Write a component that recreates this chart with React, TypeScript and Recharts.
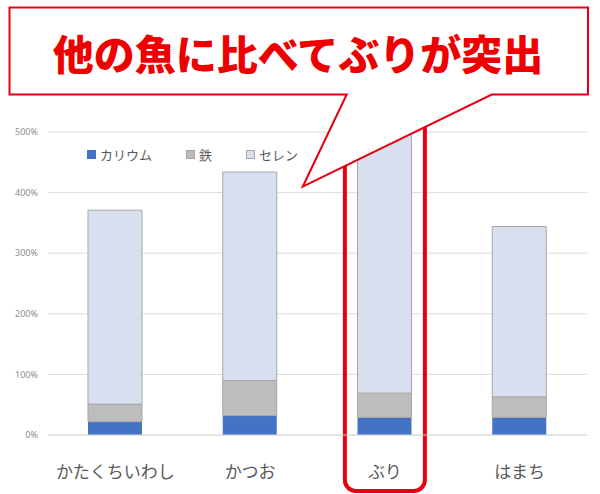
import React from 'react';
import { BarChart, Bar, XAxis, YAxis, CartesianGrid, ReferenceArea } from 'recharts';

const categories = ['かたくちいわし', 'かつお', 'ぶり', 'はまち'];
const potassium = [22, 32, 29, 29];
const iron = [29, 58, 40, 34];
const selenium = [320, 344, 431, 281];
const yTicks = [0, 100, 200, 300, 400, 500];
const seriesNames = ['カリウム', '鉄', 'セレン'];
const seriesColors = ['#4472c4', '#bdbdbd', '#d8e0ef'];
const highlightCategory = 'ぶり';
const calloutText = '他の魚に比べてぶりが突出';

const data = categories.map((name, i) => ({
  name,
  k: potassium[i],
  fe: iron[i],
  se: selenium[i],
}));

const JP = '"Noto Sans CJK JP", "Noto Sans", sans-serif';

const HighlightShape = (props: any) => {
  const { x, y, width, height } = props;
  const cx = x + width / 2;
  return (
    <rect
      x={cx - 40}
      y={y - 25}
      width={80}
      height={height + 25 + 56}
      rx={11}
      ry={11}
      fill="none"
      stroke="#e60012"
      strokeWidth={4}
    />
  );
};

export default function App() {
  return (
    <div style={{ position: 'absolute', left: 0, top: 0, width: 600, height: 494, background: '#fff', overflow: 'hidden' }}>
      <BarChart
        width={600}
        height={494}
        data={data}
        margin={{ top: 132, right: 13, left: 0, bottom: 19 }}
        barSize={54}
      >
        <CartesianGrid vertical={false} stroke="#dcdcdc" />
        <XAxis
          dataKey="name"
          height={40}
          tickLine={false}
          axisLine={{ stroke: '#d9d9d9' }}
          tickMargin={25}
          tick={{ fontSize: 17, fill: '#595959', fontFamily: JP }}
        />
        <YAxis
          width={48}
          domain={[0, 500]}
          ticks={yTicks}
          tickLine={false}
          axisLine={false}
          tickMargin={4}
          tickFormatter={(v: number) => `${v}%`}
          tick={{ fontSize: 9, fill: '#8c8c8c', fontFamily: '"Noto Sans", sans-serif' }}
        />
        <Bar dataKey="k" stackId="a" fill={seriesColors[0]} isAnimationActive={false} />
        <Bar dataKey="fe" stackId="a" fill={seriesColors[1]} stroke="#a6a6a6" strokeWidth={1} isAnimationActive={false} />
        <Bar dataKey="se" stackId="a" fill={seriesColors[2]} stroke="#a6a6a6" strokeWidth={1} isAnimationActive={false} />
        <ReferenceArea
          x1={highlightCategory}
          x2={highlightCategory}
          y1={0}
          y2={500}
          ifOverflow="visible"
          shape={HighlightShape}
        />
      </BarChart>

      <div
        style={{
          position: 'absolute',
          left: 87,
          top: 145,
          display: 'flex',
          alignItems: 'center',
          fontFamily: JP,
          fontSize: 13,
          color: '#595959',
        }}
      >
        {seriesNames.map((n, i) => (
          <div key={n} style={{ display: 'flex', alignItems: 'center', marginRight: 34 }}>
            <span
              style={{
                display: 'inline-block',
                width: 9,
                height: 9,
                background: seriesColors[i],
                border: i === 0 ? 'none' : '1px solid #a6a6a6',
                boxSizing: 'border-box',
                marginRight: 4,
              }}
            />
            <span>{n}</span>
          </div>
        ))}
      </div>

      <svg width={600} height={494} style={{ position: 'absolute', left: 0, top: 0, pointerEvents: 'none' }}>
        <polygon
          points="9.5,7.5 588,7.5 588,94.5 491.7,94.5 302.7,186.7 346.7,94.5 9.5,94.5"
          fill="#fff"
          stroke="#e60012"
          strokeWidth={2}
          strokeLinejoin="miter"
        />
        <text
          x={298}
          y={52}
          textAnchor="middle"
          dominantBaseline="central"
          fontFamily={JP}
          fontWeight={900}
          fontSize={41}
          fill="#ee0000"
        >
          {calloutText}
        </text>
      </svg>
    </div>
  );
}
